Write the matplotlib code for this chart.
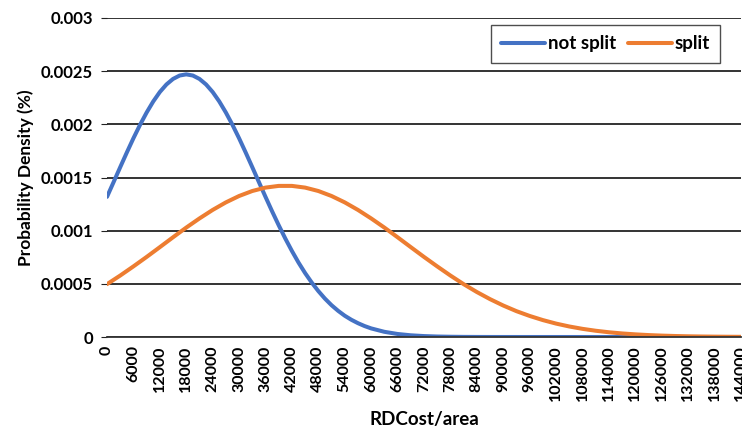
import matplotlib.pyplot as plt

# not split curve (finer step around the peak)
ns_x = [i * 1500 for i in range(41)] + [63000, 66000, 69000, 72000, 75000, 78000,
                                        81000, 84000, 87000, 90000, 96000, 120000, 144000]
not_split = [0.001318, 0.001457, 0.001597, 0.001735, 0.001869, 0.001995, 0.002111,
             0.002215, 0.002304, 0.002375, 0.002427, 0.002459, 0.00247, 0.002459,
             0.002427, 0.002375, 0.002304, 0.002215, 0.002111, 0.001995, 0.001869,
             0.001735, 0.001597, 0.001457, 0.001318, 0.001182, 0.001051, 0.000926,
             0.000809, 0.000700, 0.000601, 0.000512, 0.000432, 0.000361, 0.000299,
             0.000246, 0.000200, 0.000162, 0.000130, 0.000103, 0.0000808,
             0.0000488, 0.0000284, 0.000016, 0.0000087, 0.0000045, 0.0000023,
             0.000001, 0.0000005, 0.0000002, 0.0000001, 0, 0, 0]

# split curve, read every 3000
sp_x = [i * 3000 for i in range(49)]
split = [0.000497, 0.000578, 0.000664, 0.000753, 0.000845, 0.000938, 0.001029,
         0.001115, 0.001195, 0.001266, 0.001326, 0.001373, 0.001405, 0.001421,
         0.001421, 0.001405, 0.001373, 0.001326, 0.001266, 0.001195, 0.001115,
         0.001029, 0.000938, 0.000845, 0.000753, 0.000664, 0.000578, 0.000497,
         0.000423, 0.000356, 0.000296, 0.000243, 0.000198, 0.000159, 0.000126,
         0.0000989, 0.0000767, 0.0000588, 0.0000446, 0.0000334, 0.0000248,
         0.0000181, 0.0000131, 0.0000094, 0.0000066, 0.0000046, 0.0000032,
         0.0000022, 0.0000015]

xticks = list(range(0, 144001, 6000))
yticks = [0, 0.0005, 0.001, 0.0015, 0.002, 0.0025, 0.003]
ytick_labels = ["0", "0.0005", "0.001", "0.0015", "0.002", "0.0025", "0.003"]

plt.rcParams['font.family'] = ['Lato', 'DejaVu Sans']
plt.rcParams['font.weight'] = 'bold'

fig = plt.figure(figsize=(7.42, 4.29), dpi=100)
ax = fig.add_axes([107 / 742, 1 - 337 / 429, 634 / 742, 319 / 429])

ax.plot(ns_x, not_split, color='#4472C4', lw=2.9, label='not split',
        solid_capstyle='round', solid_joinstyle='round')
ax.plot(sp_x, split, color='#ED7D31', lw=2.9, label='split',
        solid_capstyle='round', solid_joinstyle='round')

ax.set_xlim(0, 144000)
ax.set_ylim(0, 0.003)
ax.set_yticks(yticks)
ax.set_yticklabels(ytick_labels, fontsize=12, fontweight='bold')
ax.set_xticks(xticks)
ax.set_xticklabels([str(t) for t in xticks], rotation=90, fontsize=11.5, fontweight='bold')
ax.tick_params(axis='x', length=0, pad=6)
ax.tick_params(axis='y', length=4, color='#222222', pad=6)

ax.grid(axis='y', color='#111111', lw=1.2)
ax.set_axisbelow(True)
for s in ['top', 'right', 'left']:
    ax.spines[s].set_visible(False)
ax.spines['bottom'].set_color('#333333')
ax.spines['bottom'].set_linewidth(1.3)

ax.set_ylabel('Probability Density (%)', fontsize=12.5, fontweight='bold', labelpad=5)
ax.set_xlabel('RDCost/area', fontsize=13.5, fontweight='bold', labelpad=7)

leg = ax.legend(loc='upper right', bbox_to_anchor=(0.967, 0.978), borderaxespad=0,
                ncol=2, fancybox=False, frameon=True,
                handlelength=2.35, handletextpad=0.15, columnspacing=0.6,
                borderpad=0.55, prop={'weight': 'bold', 'size': 13.5})
leg.get_frame().set_edgecolor('#222222')
leg.get_frame().set_linewidth(1.0)

fig.savefig('out.png', dpi=100)
